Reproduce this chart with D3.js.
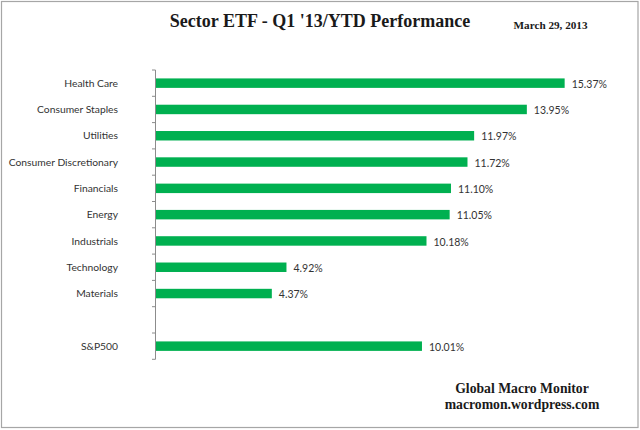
<!DOCTYPE html>
<html>
<head>
<meta charset="utf-8">
<script src="https://cdn.jsdelivr.net/npm/d3@7"></script>
<style>
  html, body { margin: 0; padding: 0; background: #fff; }
  svg { display: block; }
</style>
</head>
<body>
<svg id="chart" width="640" height="430"></svg>
<script>
const categories = ["Health Care", "Consumer Staples", "Utilities", "Consumer Discretionary",
  "Financials", "Energy", "Industrials", "Technology", "Materials", "", "S&P500"];
const values = [15.37, 13.95, 11.97, 11.72, 11.10, 11.05, 10.18, 4.92, 4.37, null, 10.01];
const title = "Sector ETF - Q1 '13/YTD Performance";
const dateLabel = "March 29, 2013";
const footer = ["Global Macro Monitor", "macromon.wordpress.com"];

const svg = d3.select("#chart");
const W = 640, H = 430;

svg.append("rect").attr("x", 1.5).attr("y", 1.5).attr("width", W - 3.5).attr("height", H - 4)
  .attr("fill", "#fff").attr("stroke", "#a6a6a6").attr("stroke-width", 1.2);

const x = d3.scaleLinear().domain([0, 16]).range([155.5, 155.5 + 16 * 26.62]);
const y = d3.scaleBand().domain(categories).range([70, 359.3]).paddingInner(0.64).paddingOuter(0.32);

const data = categories.map((c, i) => ({ c, v: values[i] }));

// axis
const gap = (y.step() - y.bandwidth()) / 2;
const tickYs = categories.map(c => y(c) - gap).concat([y(categories[categories.length - 1]) + y.bandwidth() + gap]);
const axis = svg.append("g").attr("stroke", "#8c8c8c").attr("stroke-width", 1);
axis.append("line").attr("x1", x(0)).attr("x2", x(0)).attr("y1", tickYs[0]).attr("y2", tickYs[tickYs.length - 1]);
axis.selectAll("line.tick").data(tickYs).join("line").attr("class", "tick")
  .attr("x1", x(0) - 3.5).attr("x2", x(0)).attr("y1", d => d).attr("y2", d => d);

// category labels
svg.append("g").selectAll("text").data(data).join("text")
  .attr("x", 118).attr("y", d => y(d.c) + y.bandwidth() / 2)
  .attr("dy", "0.35em").attr("text-anchor", "end")
  .attr("font-family", "Lato, 'Open Sans', sans-serif").attr("font-size", 10.3)
  .attr("fill", "#333").text(d => d.c);

// bars
const valid = data.filter(d => d.v != null);
svg.append("g").selectAll("rect").data(valid).join("rect")
  .attr("x", x(0) + 0.5).attr("y", d => y(d.c))
  .attr("width", d => x(d.v) - x(0) - 0.5).attr("height", y.bandwidth())
  .attr("fill", "#00b050");

// value labels
svg.append("g").selectAll("text").data(valid).join("text")
  .attr("x", d => x(d.v) + 7).attr("y", d => y(d.c) + y.bandwidth() / 2 + 1)
  .attr("dy", "0.35em")
  .attr("font-family", "Lato, 'Open Sans', sans-serif").attr("font-size", 10.5)
  .attr("fill", "#333").text(d => d3.format(".2f")(d.v) + "%");

// title
svg.append("text").attr("x", 320).attr("y", 26.7).attr("text-anchor", "middle")
  .attr("font-family", "'Liberation Serif', 'Times New Roman', serif").attr("font-weight", "bold")
  .attr("font-size", 18).attr("fill", "#1a1a1a").text(title);

svg.append("text").attr("x", 513.5).attr("y", 28.5)
  .attr("font-family", "'Liberation Serif', 'Times New Roman', serif").attr("font-weight", "bold")
  .attr("font-size", 11.2).attr("fill", "#1a1a1a").text(dateLabel);

svg.append("g").selectAll("text").data(footer).join("text")
  .attr("x", 522).attr("y", (d, i) => 393.3 + i * 15.2).attr("text-anchor", "middle")
  .attr("font-family", "'Liberation Serif', 'Times New Roman', serif").attr("font-weight", "bold")
  .attr("font-size", 13.7).attr("fill", "#1a1a1a").text(d => d);
</script>
</body>
</html>
